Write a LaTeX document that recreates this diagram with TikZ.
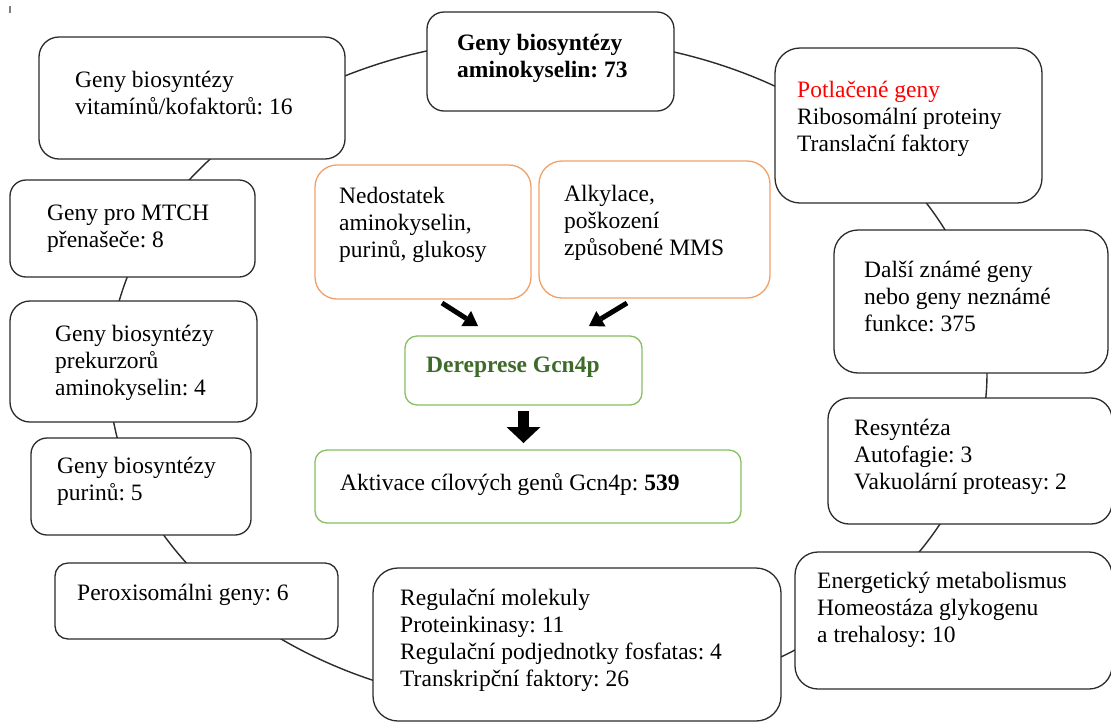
\documentclass[tikz,border=0pt]{standalone}
\usepackage{fontspec}
\setmainfont{Liberation Serif}
\usetikzlibrary{arrows.meta}
\definecolor{lineC}{HTML}{2B2B2B}
\definecolor{orangeC}{HTML}{F2A06A}
\definecolor{greenC}{HTML}{86C063}
\definecolor{dgreen}{HTML}{3E6B2A}
\newcommand{\ml}[1]{\begin{tabular}[t]{@{}l@{}}#1\end{tabular}}
\frenchspacing
\begin{document}
\begin{tikzpicture}[x=1pt,y=-1pt,
  box/.style={draw=lineC, line width=1.3pt, fill=white, rectangle, inner sep=0pt, outer sep=0pt},
  obox/.style={box, draw=orangeC},
  gbox/.style={box, draw=greenC},
  txt/.style={anchor=base west, inner sep=0pt, font=\fontsize{23.5}{27}\selectfont\frenchspacing},
  btxt/.style={txt, font=\fontsize{23.5}{27}\selectfont\frenchspacing\bfseries},
  ring/.style={draw=lineC, line width=1.4pt},
  diag/.style={line width=5pt, -{Triangle[length=14pt,width=18pt,line width=0pt]}},
  fat/.style={line width=11pt, -{Triangle[length=16pt,width=34pt,line width=0pt]}}]

\useasboundingbox (0,0) rectangle (1111,724);
\fill[white] (0,0) rectangle (1111,724);
\fill[gray] (8.5,6) rectangle (10.5,12.5);

% ring behind the boxes
\draw[ring] (548,373) ellipse [x radius=439pt, y radius=335pt];

% outer boxes
\node[box, minimum width=306pt, minimum height=122pt, rounded corners=20pt] (vit) at (192,98) {};
\node[txt] (vit-t) at (75,87) {\ml{Geny biosyntézy\\vitamínů/kofaktorů: 16}};

\node[box, minimum width=247pt, minimum height=99pt, rounded corners=17pt] (top) at (550.5,61.5) {};
\node[btxt] (top-t) at (457,50) {\ml{Geny biosyntézy\\aminokyselin: 73}};

\node[box, minimum width=267pt, minimum height=155pt, rounded corners=25pt] (pot) at (908.5,125.5) {};
\node[txt] (pot-t) at (797,97) {\ml{\textcolor{red}{Potlačené geny}\\Ribosomální proteiny\\Translační faktory}};

\node[box, minimum width=245pt, minimum height=97pt, rounded corners=16pt] (mtch) at (132.5,228.5) {};
\node[txt] (mtch-t) at (47,220) {\ml{Geny pro MTCH\\přenašeče: 8}};

\node[box, minimum width=274pt, minimum height=143pt, rounded corners=24pt] (dal) at (971,301.5) {};
\node[txt] (dal-t) at (864,277) {\ml{Další známé geny\\nebo geny neznámé\\funkce: 375}};

\node[box, minimum width=247pt, minimum height=121pt, rounded corners=20pt] (pre) at (133.5,361.5) {};
\node[txt] (pre-t) at (55,341) {\ml{Geny biosyntézy\\prekurzorů\\aminokyselin: 4}};

\node[box, minimum width=284pt, minimum height=126pt, rounded corners=21pt] (res) at (970,461) {};
\node[txt] (res-t) at (854,435) {\ml{Resyntéza\\Autofagie: 3\\Vakuolární proteasy: 2}};

\node[box, minimum width=220pt, minimum height=97pt, rounded corners=16pt] (pur) at (141,486.5) {};
\node[txt] (pur-t) at (57,473) {\ml{Geny biosyntézy\\purinů: 5}};

\node[box, minimum width=317pt, minimum height=137pt, rounded corners=23pt] (ene) at (953.5,620.5) {};
\node[txt] (ene-t) at (817,588) {\ml{Energetický metabolismus\\Homeostáza glykogenu\\a trehalosy: 10}};

\node[box, minimum width=283pt, minimum height=76pt, rounded corners=13pt] (per) at (196.5,601) {};
\node[txt] (per-t) at (77,600) {Peroxisomálni geny: 6};

\node[box, minimum width=408pt, minimum height=153pt, rounded corners=25pt] (reg) at (577,644.5) {};
\node[txt] (reg-t) at (400,605) {\ml{Regulační molekuly\\Proteinkinasy: 11\\Regulační podjednotky fosfatas: 4\\Transkripční faktory: 26}};

% central flow
\node[obox, minimum width=216pt, minimum height=134pt, rounded corners=22pt] (ned) at (423,232) {};
\node[txt] (ned-t) at (339,203) {\ml{Nedostatek\\aminokyselin,\\purinů, glukosy}};

\node[obox, minimum width=231pt, minimum height=137pt, rounded corners=23pt] (alk) at (654.5,229.5) {};
\node[txt] (alk-t) at (564,201) {\ml{Alkylace,\\poškození\\způsobené MMS}};

\node[gbox, minimum width=237pt, minimum height=69pt, rounded corners=12pt] (der) at (523.5,370.5) {};
\node[btxt, text=dgreen] (der-t) at (426,372) {Dereprese Gcn4p};

\node[gbox, minimum width=426pt, minimum height=73pt, rounded corners=12pt] (akt) at (528,486.5) {};
\node[txt] (akt-t) at (340,490) {Aktivace cílových genů Gcn4p: \textbf{539}};

\coordinate (a1s) at (442,303);
\coordinate (a1e) at (478,326);
\coordinate (a2s) at (627,303);
\coordinate (a2e) at (589,326);
\draw[diag] (a1s) -- (a1e);
\draw[diag] (a2s) -- (a2e);
\draw[fat, shorten <=6pt, shorten >=7pt] (der.south) -- (der.south |- akt.north);
\end{tikzpicture}
\end{document}
